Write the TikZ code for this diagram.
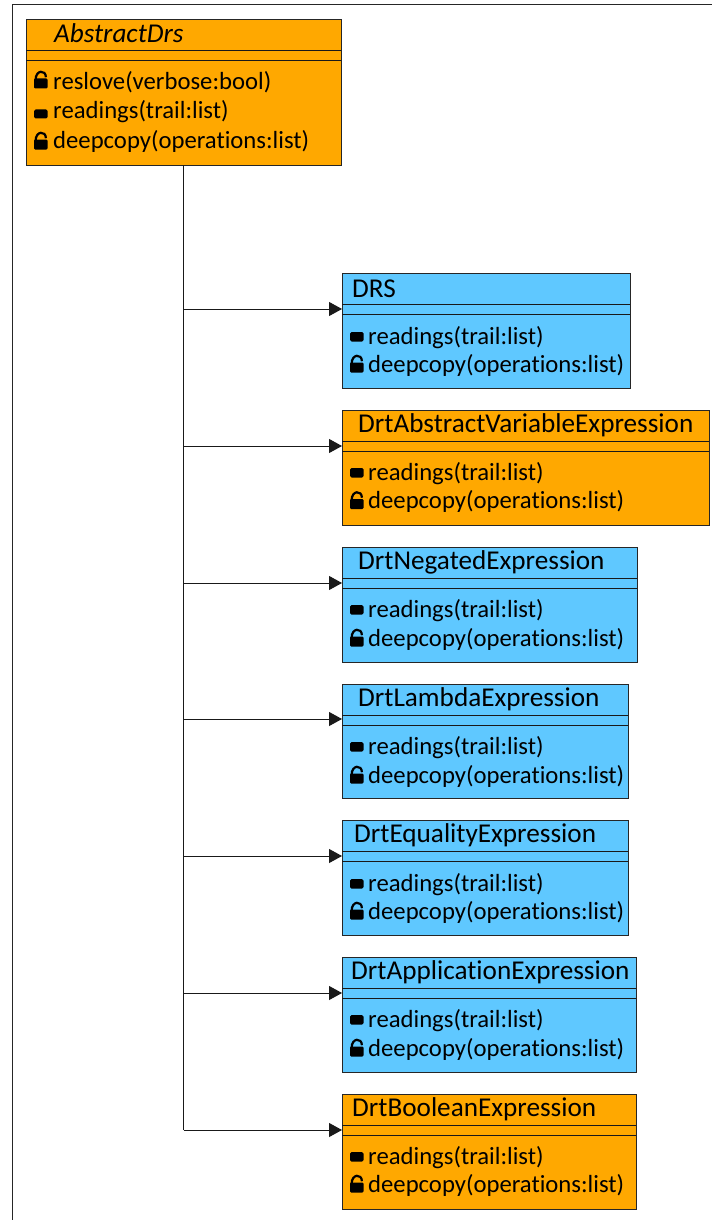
\documentclass[tikz,border=0pt]{standalone}
\usepackage{fontspec}
\setmainfont[Ligatures=NoCommon]{Carlito}
\usetikzlibrary{arrows.meta}
\definecolor{umlorange}{HTML}{FFA800}
\definecolor{umlblue}{HTML}{5FC8FF}
\tikzset{
  x=1pt,y=-1pt,
  umlbox/.style={draw=black!85,line width=1pt,anchor=north west,inner sep=0pt,outer sep=0pt},
  title/.style={anchor=base west,inner sep=0pt,font=\fontsize{27.2}{27.2}\selectfont,text=black},
  member/.style={anchor=base west,inner sep=0pt,font=\fontsize{24.7}{24.7}\selectfont,text=black},
  rule/.style={line width=1pt,draw=black!90},
  wire/.style={line width=1pt,draw=black!90},
  inherit/.style={wire,-{Triangle[length=13pt,width=14pt]}}
}
% #1 left x, #2 baseline y
\newcommand{\lockbody}[2]{\fill[black,rounded corners=1.2pt] (#1,#2+0.5) rectangle (#1+13.5,#2-9.5);}
\newcommand{\openlock}[2]{\lockbody{#1}{#2}
  \draw[black,line width=2.2pt] (#1+1.6,#2-8) .. controls (#1+1.6,#2-18.5) and (#1+11.9,#2-18.5) .. (#1+11.9,#2-10.8);}
% #1 name, #2 x1, #3 y1, #4 x2, #5 y2, #6 fill, #7 text x, #8 title, #9 title offset
\newcommand{\cls}[9]{
  \pgfmathsetmacro{\boxw}{#4-#2}\pgfmathsetmacro{\boxh}{#5-#3}
  \node[umlbox,fill=#6,minimum width=\boxw pt,minimum height=\boxh pt] (#1) at (#2,#3) {};
  \node[title] (#1t) at (#7,#3+#9) {#8};
  \draw[rule] (#2,#3+31) -- (#4,#3+31);
  \draw[rule] (#2,#3+41) -- (#4,#3+41);
}
% subclass members
\newcommand{\mem}[3]{
  \fill[black,rounded corners=1.5pt] (350,#2-12) rectangle (363.5,#2-2.5);
  \node[member] (#1r) at (368,#2) {readings(trail:list)};
  \openlock{350}{#3}
  \node[member] (#1d) at (368,#3) {deepcopy(operations:list)};
}
\begin{document}
\begin{tikzpicture}
\useasboundingbox (0,0) rectangle (712,1220);
\fill[white] (0,0) rectangle (712,1220);
\coordinate (frameA) at (12,1220);
\coordinate (frameB) at (12,5);
\coordinate (frameC) at (712,5);
\draw[line width=1pt,draw=black!85] (frameA) -- (frameB) -- (frameC);

\cls{abs}{26}{20}{341}{165}{umlorange}{54}{\textit{AbstractDrs}}{23}
\openlock{34}{88}
\node[member] (absb) at (53,90) {reslove(verbose:bool)};
\fill[black,rounded corners=1.5pt] (34,109.5) rectangle (47.5,118.5);
\node[member] (absa) at (53,119) {readings(trail:list)};
\openlock{34}{149}
\node[member] (absc) at (53,148) {deepcopy(operations:list)};

\cls{drs}{342}{273}{630}{388}{umlblue}{352}{DRS}{24}
\mem{drs}{344}{372}
\cls{dav}{342}{410}{709}{525}{umlorange}{358}{DrtAbstractVariableExpression}{22}
\mem{dav}{480}{508.5}
\cls{neg}{342}{547}{637}{662}{umlblue}{358}{DrtNegatedExpression}{22}
\mem{neg}{617}{646}
\cls{lam}{342}{684}{628}{798}{umlblue}{358}{DrtLambdaExpression}{22}
\mem{lam}{754}{783}
\cls{equ}{342}{820}{628}{935}{umlblue}{354}{DrtEqualityExpression}{22.5}
\mem{equ}{891}{919}
\cls{app}{342}{957}{636}{1072}{umlblue}{351}{DrtApplicationExpression}{22}
\mem{app}{1027}{1056}
\cls{boo}{342}{1094}{636}{1209}{umlorange}{352}{DrtBooleanExpression}{22}
\mem{boo}{1164}{1192}

\coordinate (p1) at (342,309);
\coordinate (p2) at (342,446);
\coordinate (p3) at (342,583);
\coordinate (p4) at (342,719);
\coordinate (p5) at (342,856);
\coordinate (p6) at (342,993);
\coordinate (p7) at (342,1130);
\draw[wire] (abs.south) -- (abs.south |- p7);
\foreach \p in {p1,p2,p3,p4,p5,p6,p7}{
  \draw[inherit] (abs.south |- \p) -- (\p);
}
\end{tikzpicture}
\end{document}
